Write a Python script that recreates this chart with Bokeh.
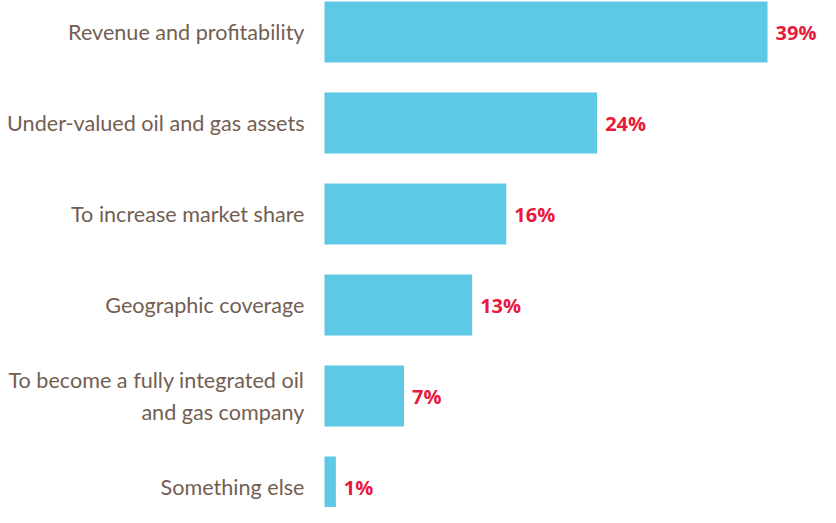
from bokeh.plotting import figure
from bokeh.models import Range1d, ColumnDataSource
from bokeh.core.properties import value
from bokeh.embed import file_html
from bokeh.resources import INLINE

categories = [
    "Revenue and profitability",
    "Under-valued oil and gas assets",
    "To increase market share",
    "Geographic coverage",
    "To become a fully integrated oil\nand gas company",
    "Something else",
]
values = [39, 24, 16, 13, 7, 1]
value_labels = ["39%", "24%", "16%", "13%", "7%", "1%"]

W, H = 820, 507
scale = 11.36
x0_px = 324
pitch = 91
c0 = 31.5

positions = list(range(len(categories)))
src = ColumnDataSource(dict(y=positions, v=values, cat=categories, lab=value_labels,
                            zero=[0] * len(values)))

p = figure(width=W, height=H, output_backend="svg", toolbar_location=None,
           x_range=Range1d(-x0_px / scale, (W - x0_px) / scale),
           y_range=Range1d((H - c0) / pitch, -c0 / pitch),
           min_border=0)
p.axis.visible = False
p.grid.visible = False
p.outline_line_color = None
p.background_fill_color = "white"

p.hbar(y="y", left=0, right="v", height=61 / pitch, source=src,
       fill_color="#5ec9e5", line_color=None)

p.text(x="zero", y="y", text="cat", source=src, x_offset=-20,
       text_align="right", text_baseline="middle",
       text_font=value("Lato"), text_font_size="21.6px", text_color="#735e51",
       text_line_height=1.2)

p.text(x="v", y="y", text="lab", source=src, x_offset=8,
       text_align="left", text_baseline="middle",
       text_font=value("Open Sans"), text_font_size="20px", text_font_style="bold",
       text_color="#e8193c")

open("out.html", "w").write(file_html(p, INLINE))
